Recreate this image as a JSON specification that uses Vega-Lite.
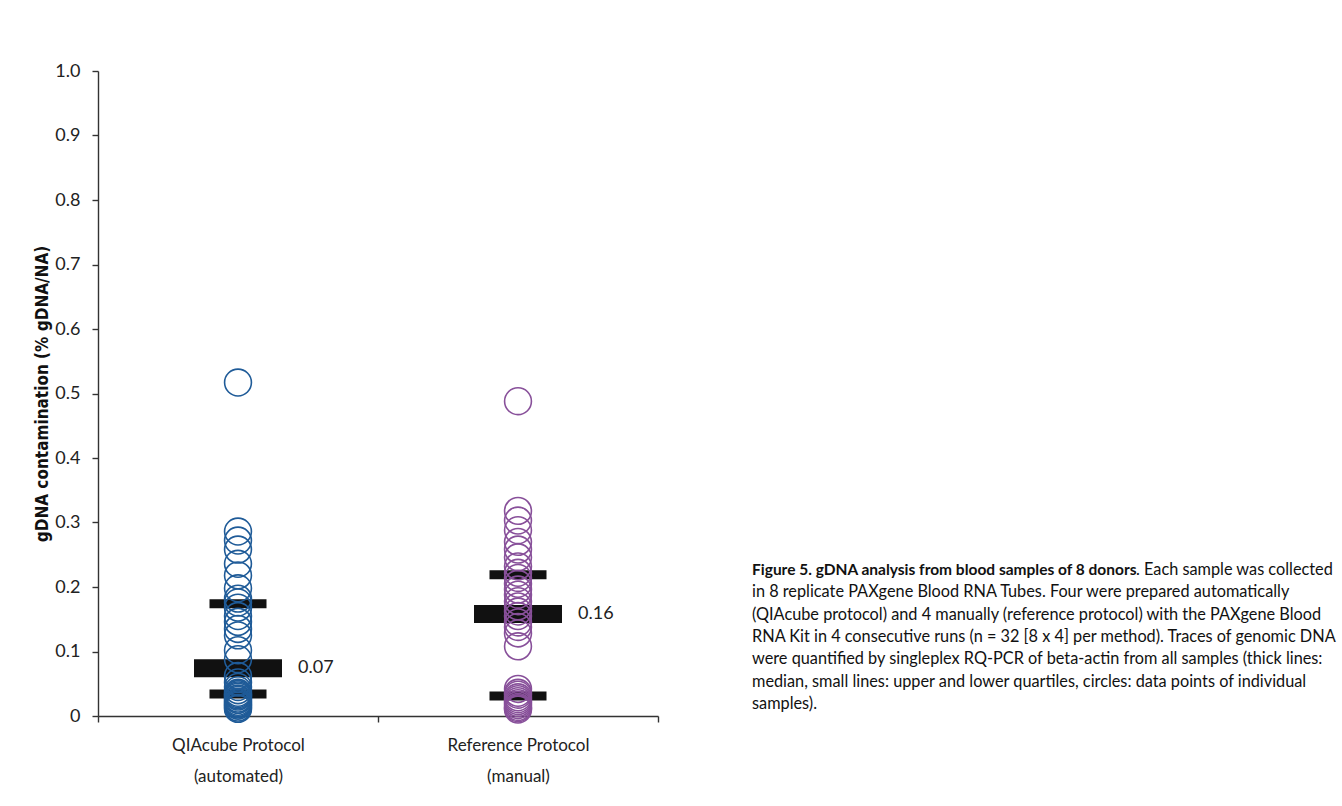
{
  "$schema": "https://vega.github.io/schema/vega-lite/v6.json",
  "background": "white",
  "padding": {"left": 33, "top": 62, "right": 5, "bottom": 5},
  "spacing": 93,
  "config": {
    "view": {"stroke": null},
    "font": "Lato",
    "axis": {"grid": false, "domainColor": "#333333", "tickColor": "#333333", "labelColor": "#222222", "titleColor": "#111111", "domainWidth": 1.4, "tickWidth": 1.4}
  },
  "datasets": {
    "points": [
      {"protocol": "QIAcube Protocol (automated)", "value": 0.517},
      {"protocol": "QIAcube Protocol (automated)", "value": 0.286},
      {"protocol": "QIAcube Protocol (automated)", "value": 0.272},
      {"protocol": "QIAcube Protocol (automated)", "value": 0.258},
      {"protocol": "QIAcube Protocol (automated)", "value": 0.236},
      {"protocol": "QIAcube Protocol (automated)", "value": 0.218},
      {"protocol": "QIAcube Protocol (automated)", "value": 0.198},
      {"protocol": "QIAcube Protocol (automated)", "value": 0.182},
      {"protocol": "QIAcube Protocol (automated)", "value": 0.176},
      {"protocol": "QIAcube Protocol (automated)", "value": 0.168},
      {"protocol": "QIAcube Protocol (automated)", "value": 0.155},
      {"protocol": "QIAcube Protocol (automated)", "value": 0.146},
      {"protocol": "QIAcube Protocol (automated)", "value": 0.135},
      {"protocol": "QIAcube Protocol (automated)", "value": 0.125},
      {"protocol": "QIAcube Protocol (automated)", "value": 0.102},
      {"protocol": "QIAcube Protocol (automated)", "value": 0.088},
      {"protocol": "QIAcube Protocol (automated)", "value": 0.062},
      {"protocol": "QIAcube Protocol (automated)", "value": 0.052},
      {"protocol": "QIAcube Protocol (automated)", "value": 0.045},
      {"protocol": "QIAcube Protocol (automated)", "value": 0.040},
      {"protocol": "QIAcube Protocol (automated)", "value": 0.036},
      {"protocol": "QIAcube Protocol (automated)", "value": 0.034},
      {"protocol": "QIAcube Protocol (automated)", "value": 0.032},
      {"protocol": "QIAcube Protocol (automated)", "value": 0.030},
      {"protocol": "QIAcube Protocol (automated)", "value": 0.027},
      {"protocol": "QIAcube Protocol (automated)", "value": 0.025},
      {"protocol": "QIAcube Protocol (automated)", "value": 0.022},
      {"protocol": "QIAcube Protocol (automated)", "value": 0.020},
      {"protocol": "QIAcube Protocol (automated)", "value": 0.018},
      {"protocol": "QIAcube Protocol (automated)", "value": 0.016},
      {"protocol": "QIAcube Protocol (automated)", "value": 0.013},
      {"protocol": "QIAcube Protocol (automated)", "value": 0.011},
      {"protocol": "Reference Protocol (manual)", "value": 0.488},
      {"protocol": "Reference Protocol (manual)", "value": 0.318},
      {"protocol": "Reference Protocol (manual)", "value": 0.303},
      {"protocol": "Reference Protocol (manual)", "value": 0.288},
      {"protocol": "Reference Protocol (manual)", "value": 0.270},
      {"protocol": "Reference Protocol (manual)", "value": 0.258},
      {"protocol": "Reference Protocol (manual)", "value": 0.246},
      {"protocol": "Reference Protocol (manual)", "value": 0.232},
      {"protocol": "Reference Protocol (manual)", "value": 0.222},
      {"protocol": "Reference Protocol (manual)", "value": 0.214},
      {"protocol": "Reference Protocol (manual)", "value": 0.205},
      {"protocol": "Reference Protocol (manual)", "value": 0.196},
      {"protocol": "Reference Protocol (manual)", "value": 0.188},
      {"protocol": "Reference Protocol (manual)", "value": 0.178},
      {"protocol": "Reference Protocol (manual)", "value": 0.170},
      {"protocol": "Reference Protocol (manual)", "value": 0.162},
      {"protocol": "Reference Protocol (manual)", "value": 0.155},
      {"protocol": "Reference Protocol (manual)", "value": 0.145},
      {"protocol": "Reference Protocol (manual)", "value": 0.138},
      {"protocol": "Reference Protocol (manual)", "value": 0.128},
      {"protocol": "Reference Protocol (manual)", "value": 0.108},
      {"protocol": "Reference Protocol (manual)", "value": 0.042},
      {"protocol": "Reference Protocol (manual)", "value": 0.036},
      {"protocol": "Reference Protocol (manual)", "value": 0.033},
      {"protocol": "Reference Protocol (manual)", "value": 0.029},
      {"protocol": "Reference Protocol (manual)", "value": 0.026},
      {"protocol": "Reference Protocol (manual)", "value": 0.023},
      {"protocol": "Reference Protocol (manual)", "value": 0.020},
      {"protocol": "Reference Protocol (manual)", "value": 0.017},
      {"protocol": "Reference Protocol (manual)", "value": 0.014},
      {"protocol": "Reference Protocol (manual)", "value": 0.012},
      {"protocol": "Reference Protocol (manual)", "value": 0.010}
    ],
    "stats": [
      {"protocol": "QIAcube Protocol (automated)", "stat": "median", "value": 0.074},
      {"protocol": "QIAcube Protocol (automated)", "stat": "upper quartile", "value": 0.174},
      {"protocol": "QIAcube Protocol (automated)", "stat": "lower quartile", "value": 0.034},
      {"protocol": "Reference Protocol (manual)", "stat": "median", "value": 0.158},
      {"protocol": "Reference Protocol (manual)", "stat": "upper quartile", "value": 0.219},
      {"protocol": "Reference Protocol (manual)", "stat": "lower quartile", "value": 0.031}
    ],
    "caption": [
      {"line": 1, "part": "lead", "text": "Figure 5. gDNA analysis from blood samples of 8 donors"},
      {"line": 1, "part": "tail", "text": ". Each sample was collected"},
      {"line": 2, "part": "body", "text": "in 8 replicate PAXgene Blood RNA Tubes. Four were prepared automatically"},
      {"line": 3, "part": "body", "text": "(QIAcube protocol) and 4 manually (reference protocol) with the PAXgene Blood"},
      {"line": 4, "part": "body", "text": "RNA Kit in 4 consecutive runs (n = 32 [8 x 4] per method). Traces of genomic DNA"},
      {"line": 5, "part": "body", "text": "were quantified by singleplex RQ-PCR of beta-actin from all samples (thick lines:"},
      {"line": 6, "part": "body", "text": "median, small lines: upper and lower quartiles, circles: data points of individual"},
      {"line": 7, "part": "body", "text": "samples)."}
    ]
  },
  "hconcat": [
    {
      "width": 560,
      "height": 645,
      "encoding": {
        "x": {
          "field": "protocol", "type": "nominal",
          "scale": {"type": "band", "paddingInner": 0, "paddingOuter": 0, "domain": ["QIAcube Protocol (automated)", "Reference Protocol (manual)"]},
          "axis": {
            "title": null, "labelAngle": 0, "tickBand": "extent", "tickSize": 6,
            "labelFontSize": 17, "labelPadding": 15, "labelLineHeight": 31, "labelBaseline": "top",
            "labelExpr": "datum.label == 'QIAcube Protocol (automated)' ? ['QIAcube Protocol', '(automated)'] : datum.label == 'Reference Protocol (manual)' ? ['Reference Protocol', '(manual)'] : ''"
          }
        },
        "y": {
          "field": "value", "type": "quantitative",
          "scale": {"domain": [0, 1], "nice": false, "zero": true},
          "axis": {
            "title": "gDNA contamination (% gDNA/NA)", "titleFontSize": 17, "titleFontWeight": "bold",
            "titleFont": "Liberation Sans Narrow, DejaVu Sans Condensed, Lato",
            "titlePadding": 3,
            "values": [0, 0.1, 0.2, 0.3, 0.4, 0.5, 0.6, 0.7, 0.8, 0.9, 1.0],
            "labelExpr": "datum.value == 0 ? '0' : format(datum.value, '.1f')",
            "labelFontSize": 18, "labelPadding": 12, "tickSize": 6
          }
        }
      },
      "layer": [
        {
          "data": {"name": "stats"},
          "transform": [{"filter": "datum.stat != 'median'"}],
          "mark": {"type": "tick", "size": 57, "thickness": 9, "color": "#111111", "opacity": 1}
        },
        {
          "data": {"name": "stats"},
          "transform": [{"filter": "datum.stat == 'median'"}],
          "mark": {"type": "tick", "size": 88, "thickness": 18, "color": "#111111", "opacity": 1}
        },
        {
          "data": {"name": "points"},
          "mark": {"type": "point", "shape": "circle", "filled": false, "size": 720, "strokeWidth": 1.6, "opacity": 1},
          "encoding": {
            "color": {"field": "protocol", "type": "nominal", "scale": {"domain": ["QIAcube Protocol (automated)", "Reference Protocol (manual)"], "range": ["#1f5b98", "#88509a"]}, "legend": null}
          }
        },
        {
          "data": {"name": "stats"},
          "transform": [{"filter": "datum.stat == 'median'"}],
          "mark": {"type": "text", "align": "left", "baseline": "middle", "dx": 60, "fontSize": 18, "color": "#222222"},
          "encoding": {"text": {"field": "value", "type": "quantitative", "format": ".2f"}}
        }
      ]
    },
    {
      "width": 585,
      "height": 645,
      "data": {"name": "caption"},
      "encoding": {
        "y": {"field": "line", "type": "ordinal", "scale": {"type": "point", "padding": 0, "range": [499, 633]}, "axis": null},
        "x": {"value": 0},
        "text": {"field": "text"}
      },
      "layer": [
        {
          "transform": [{"filter": "datum.part == 'lead'"}],
          "mark": {"type": "text", "align": "left", "baseline": "middle", "fontSize": 15.5, "fontWeight": "bold", "color": "#111111"}
        },
        {
          "transform": [{"filter": "datum.part == 'tail'"}],
          "mark": {"type": "text", "align": "left", "baseline": "middle", "fontSize": 16.3, "dx": 384, "color": "#111111"}
        },
        {
          "transform": [{"filter": "datum.part == 'body'"}],
          "mark": {"type": "text", "align": "left", "baseline": "middle", "fontSize": 16.3, "color": "#111111"}
        }
      ]
    }
  ]
}
